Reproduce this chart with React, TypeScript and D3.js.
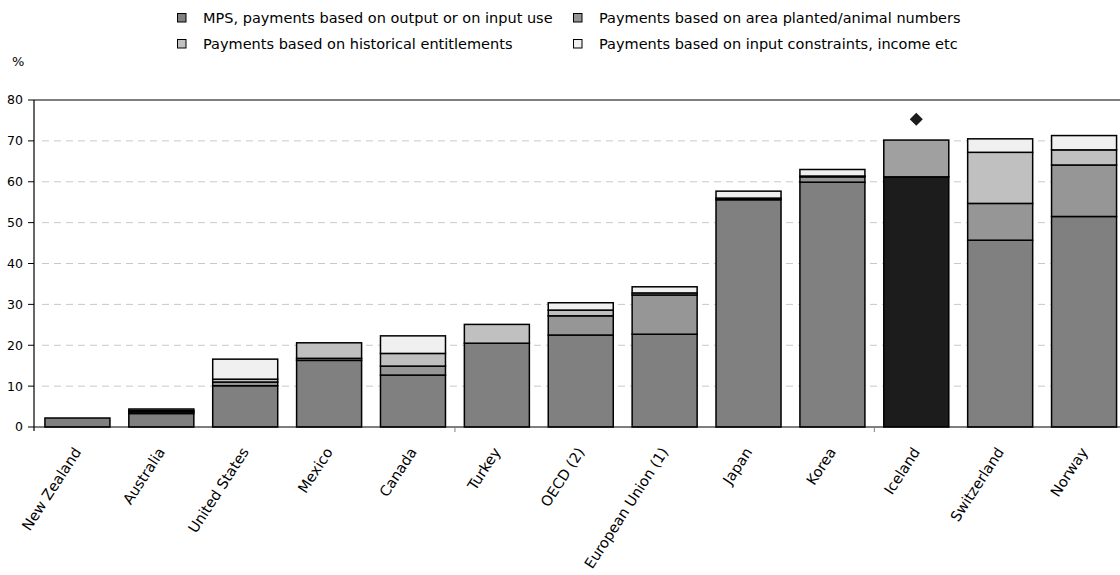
import React from "react";
import * as d3 from "d3";

const categories = ["New Zealand", "Australia", "United States", "Mexico", "Canada", "Turkey", "OECD (2)", "European Union (1)", "Japan", "Korea", "Iceland", "Switzerland", "Norway"];
const mps = [2.2, 3.3, 10.1, 16.3, 12.7, 20.5, 22.5, 22.7, 55.6, 59.9, 61.2, 45.7, 51.5];
const area = [0, 0.4, 0.9, 0.5, 2.2, 0, 4.7, 9.6, 0.4, 1.3, 9.0, 9.0, 12.6];
const historical = [0, 0.3, 0.7, 3.8, 3.1, 4.6, 1.4, 0.5, 0, 0.2, 0, 12.5, 3.7];
const other = [0, 0.4, 4.9, 0, 4.3, 0, 1.8, 1.5, 1.7, 1.6, 0, 3.3, 3.5];
const seriesNames = [
  "MPS, payments based on output or on input use",
  "Payments based on area planted/animal numbers",
  "Payments based on historical entitlements",
  "Payments based on input constraints, income etc",
];
const yTicks = [0, 10, 20, 30, 40, 50, 60, 70, 80];
const markerCountry = "Iceland";
const markerValue = 75.3;
const highlightCountry = "Iceland";

const FONT = "'DejaVu Sans', Verdana, sans-serif";
const colors = ["#808080", "#969696", "#c0c0c0", "#f0f0f0"];
const highlightColors = ["#1c1c1c", "#a0a0a0", "#c0c0c0", "#f0f0f0"];

export default function App() {
  const W = 1120, H = 575;
  const left = 34, top = 100, bottom = 427, right = 1126;
  const keys = ["mps", "area", "historical", "other"];
  const rows = categories.map((c, i) => ({ cat: c, mps: mps[i], area: area[i], historical: historical[i], other: other[i] }));
  const stacked = d3.stack<any>().keys(keys)(rows);
  const x = d3.scaleBand().domain(categories).range([35.5, right]).paddingInner(0.225).paddingOuter(0.1125);
  const y = d3.scaleLinear().domain([0, 80]).range([bottom, top]);
  const diamond = d3.symbol().type(d3.symbolSquare).size(85)();
  const xTickIdx = [5, 10];
  const legendX = [177, 573];
  const legendY = [17.5, 43.5];

  return (
    <svg width={W} height={H} style={{ position: "absolute", left: 0, top: 0 }} fontFamily={FONT}>
      <rect width={W} height={H} fill="#fff" />
      {/* legend */}
      {seriesNames.map((n, i) => {
        const lx = legendX[i % 2];
        const ly = legendY[i < 2 ? 0 : 1];
        return (
          <g key={n}>
            <rect x={lx + 0.5} y={ly - 4} width={8.5} height={8.5} fill={colors[i]} stroke="#000" strokeWidth={1} />
            <text x={lx + 26} y={ly} dy="0.35em" fontSize={14.5} fill="#000">{n}</text>
          </g>
        );
      })}
      <text x={12} y={61} dy="0.35em" fontSize={13} fill="#000">%</text>
      {/* gridlines */}
      {yTicks.filter((t) => t > 0 && t < 80).map((t) => (
        <line key={t} x1={left + 8} x2={right} y1={y(t)} y2={y(t)} stroke="#c8c8c8" strokeWidth={1} strokeDasharray="7 5" />
      ))}
      <line x1={left} x2={right} y1={y(80)} y2={y(80)} stroke="#000" strokeWidth={1.2} />
      {/* y ticks */}
      {yTicks.map((t) => (
        <g key={t}>
          <line x1={left - 6} x2={left} y1={y(t)} y2={y(t)} stroke="#000" strokeWidth={1} />
          <text x={23} y={y(t)} dy="0.35em" textAnchor="end" fontSize={12.5} fill="#000">{t}</text>
        </g>
      ))}
      {/* bars */}
      {stacked.map((s, si) => (
        <g key={s.key}>
          {s.map((d: any, i: number) => {
            const v = d[1] - d[0];
            if (v <= 0) return null;
            const cat = categories[i];
            const fill = cat === highlightCountry ? highlightColors[si] : colors[si];
            return (
              <rect key={cat} x={x(cat)!} width={x.bandwidth()} y={y(d[1])} height={y(d[0]) - y(d[1])} fill={fill} stroke="#000" strokeWidth={1.5} />
            );
          })}
        </g>
      ))}
      {/* axes */}
      <line x1={left} x2={left} y1={top} y2={bottom + 4} stroke="#000" strokeWidth={1.2} />
      <line x1={left} x2={right} y1={bottom} y2={bottom} stroke="#000" strokeWidth={1.2} />
      {xTickIdx.map((i) => {
        const xx = x.range()[0] + i * x.step();
        return <line key={i} x1={xx} x2={xx} y1={bottom} y2={bottom + 5} stroke="#808080" strokeWidth={1} />;
      })}
      {/* marker */}
      <path d={diamond!} transform={`translate(${x(markerCountry)! + x.bandwidth() / 2},${y(markerValue)}) rotate(45)`} fill="#1c1c1c" />
      {/* x labels */}
      {categories.map((c) => {
        const cx = x(c)! + x.bandwidth() / 2;
        return (
          <text key={c} transform={`translate(${cx},${449}) rotate(-57)`} textAnchor="end" dy="0.35em" fontSize={14.5} fill="#000">{c}</text>
        );
      })}
    </svg>
  );
}
